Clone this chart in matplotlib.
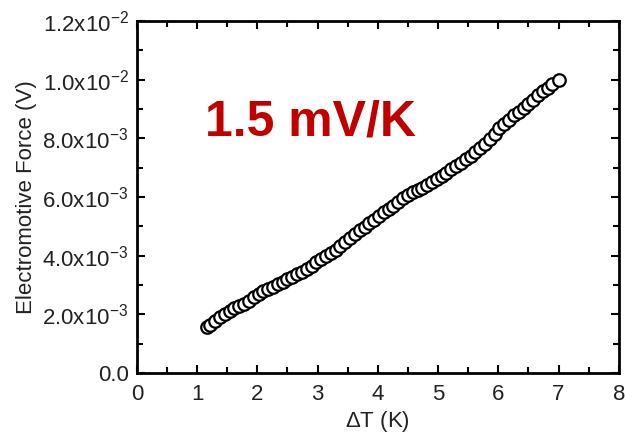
import matplotlib
matplotlib.use('Agg')
import matplotlib.pyplot as plt
from matplotlib.ticker import MultipleLocator, FixedLocator, FixedFormatter

plt.rcParams['font.family'] = ['Liberation Sans', 'DejaVu Sans']
plt.rcParams['mathtext.fontset'] = 'custom'
plt.rcParams['mathtext.rm'] = 'Liberation Sans'
plt.rcParams['mathtext.it'] = 'Liberation Sans'

# temperature difference (K)
dT = [1.16, 1.22, 1.30, 1.38, 1.46, 1.54, 1.62, 1.70, 1.78, 1.86, 1.94, 2.02, 2.10,
      2.18, 2.26, 2.34, 2.42, 2.50, 2.58, 2.66, 2.74, 2.82, 2.90, 2.98, 3.06, 3.14,
      3.22, 3.30, 3.38, 3.46, 3.54, 3.62, 3.70, 3.78, 3.86, 3.94, 4.02, 4.10, 4.18,
      4.26, 4.34, 4.42, 4.50, 4.58, 4.66, 4.74, 4.82, 4.90, 4.98, 5.06, 5.14, 5.22,
      5.30, 5.38, 5.46, 5.54, 5.62, 5.70, 5.78, 5.86, 5.94, 6.02, 6.10, 6.18, 6.26,
      6.34, 6.42, 6.50, 6.58, 6.66, 6.74, 6.82, 6.90, 7.00]
# electromotive force (mV)
emf_mV = [1.57, 1.65, 1.78, 1.90, 2.00, 2.10, 2.20, 2.28, 2.36, 2.47, 2.60, 2.70, 2.78,
          2.86, 2.94, 3.02, 3.10, 3.19, 3.28, 3.36, 3.45, 3.55, 3.66, 3.78, 3.88, 3.98,
          4.08, 4.20, 4.33, 4.47, 4.60, 4.74, 4.88, 4.98, 5.10, 5.22, 5.36, 5.48, 5.58,
          5.70, 5.84, 5.96, 6.06, 6.16, 6.24, 6.31, 6.40, 6.50, 6.60, 6.71, 6.82, 6.94,
          7.05, 7.16, 7.28, 7.40, 7.53, 7.66, 7.81, 7.98, 8.16, 8.34, 8.50, 8.64, 8.78,
          8.90, 9.03, 9.17, 9.31, 9.46, 9.60, 9.73, 9.85, 10.00]
emf = [v * 1e-3 for v in emf_mV]

ytick_vals = [0.0, 2e-3, 4e-3, 6e-3, 8e-3, 1.0e-2, 1.2e-2]
ytick_labels = ['0.0', r'2.0x10$^{-3}$', r'4.0x10$^{-3}$', r'6.0x10$^{-3}$',
                r'8.0x10$^{-3}$', r'1.0x10$^{-2}$', r'1.2x10$^{-2}$']

fig = plt.figure(figsize=(6.25, 4.36), dpi=100)
ax = fig.add_axes([0.219, 0.1445, 0.771, 0.8075])

ax.plot(dT, emf, 'o', mfc='white', mec='black', ms=9, mew=1.6)

ax.set_xlim(0, 8)
ax.set_ylim(0, 1.2e-2)
ax.xaxis.set_major_locator(MultipleLocator(1))
ax.xaxis.set_minor_locator(MultipleLocator(0.5))
ax.yaxis.set_major_locator(FixedLocator(ytick_vals))
ax.yaxis.set_major_formatter(FixedFormatter(ytick_labels))
ax.yaxis.set_minor_locator(MultipleLocator(1e-3))
ax.tick_params(which='both', direction='in', top=True, right=True, width=1.5,
               labelsize=16, labelcolor='#222222')
ax.tick_params(which='major', length=6)
ax.tick_params(axis='x', which='major', pad=8)
ax.tick_params(axis='y', which='major', pad=6)
ax.tick_params(which='minor', length=4)
for s in ax.spines.values():
    s.set_linewidth(2)

ax.set_xlabel(r'$\Delta$T (K)', fontsize=16, color='#222222', labelpad=3)
ax.set_ylabel('Electromotive Force (V)', fontsize=16, color='#222222', labelpad=4)

fig.text(0.328, 0.69, '1.5 mV/K', color='#c00000', fontsize=36, fontweight='bold')

fig.savefig('out.png', dpi=100)
